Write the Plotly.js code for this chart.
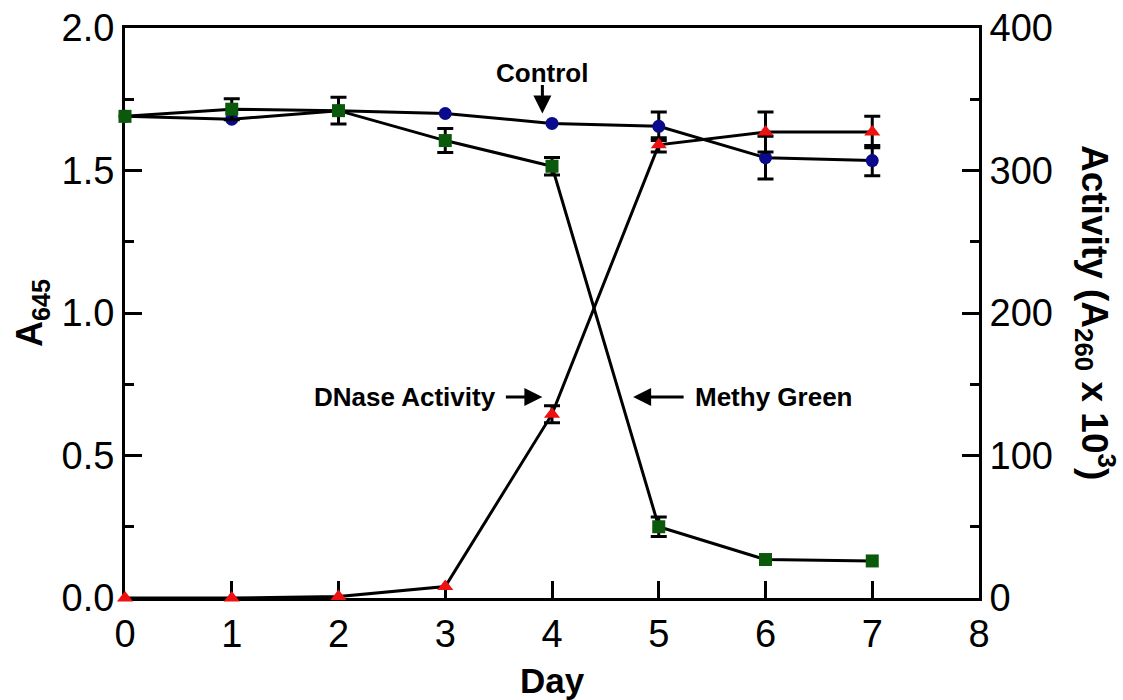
<!DOCTYPE html>
<html>
<head>
<meta charset="utf-8">
<script src="https://cdn.plot.ly/plotly-3.0.1.min.js"></script>
<style>html,body{margin:0;padding:0;background:#fff;}#chart{width:1123px;height:700px;}</style>
</head>
<body>
<div id="chart"></div>
<script>
// Data
var days = [0, 1, 2, 3, 4, 5, 6, 7];
var controlA645 = [1.69, 1.68, 1.71, 1.70, 1.665, 1.655, 1.545, 1.535];
var controlErr = [NaN, NaN, NaN, NaN, NaN, 0.05, 0.075, 0.053];
var methylGreenA645 = [1.69, 1.715, 1.71, 1.605, 1.515, 0.25, 0.135, 0.13];
var methylGreenErr = [NaN, 0.037, 0.047, 0.042, 0.031, 0.034, NaN, NaN];
var dnaseActivity = [0, 0, 1, 8, 129, 318, 327, 327];
var dnaseErr = [NaN, NaN, NaN, NaN, 6, 5, 14, 11];

var xTicks = [0, 1, 2, 3, 4, 5, 6, 7, 8];
var leftTicks = [0, 0.5, 1.0, 1.5, 2.0];
var rightTicks = [0, 100, 200, 300, 400];

var FONT = 'Liberation Sans, Arial, sans-serif';

function errSpec(arr) {
  return {type: 'data', array: arr, visible: true, color: '#000', thickness: 3, width: 8};
}

var traces = [
  {
    x: days, y: controlA645, name: 'Control', type: 'scatter', mode: 'lines+markers',
    line: {color: '#000', width: 3},
    marker: {symbol: 'circle', size: 13, color: '#0a0a8c'},
    error_y: errSpec(controlErr), cliponaxis: false
  },
  {
    x: days, y: methylGreenA645, name: 'Methy Green', type: 'scatter', mode: 'lines+markers',
    line: {color: '#000', width: 3},
    marker: {symbol: 'square', size: 13, color: '#0b5a0b'},
    error_y: errSpec(methylGreenErr), cliponaxis: false
  },
  {
    x: days, y: dnaseActivity, name: 'DNase Activity', type: 'scatter', mode: 'lines+markers',
    yaxis: 'y2',
    line: {color: '#000', width: 3},
    marker: {symbol: 'triangle-up', size: 14, color: '#ee1111'},
    error_y: errSpec(dnaseErr), cliponaxis: false
  }
];

var layout = {
  width: 1123, height: 700,
  margin: {l: 125, r: 144, t: 28, b: 102},
  paper_bgcolor: '#fff', plot_bgcolor: '#fff',
  showlegend: false,
  font: {family: FONT, color: '#000'},
  xaxis: {
    range: [0, 8], tickmode: 'array', tickvals: xTicks, ticktext: xTicks.map(String),
    ticks: 'inside', ticklen: 17, tickwidth: 3, tickcolor: '#000', layer: 'below traces',
    showline: true, linewidth: 3, linecolor: '#000', mirror: true,
    showgrid: false, zeroline: false,
    tickfont: {family: FONT, size: 38, color: '#000'},
    title: {text: '<b>Day</b>', font: {family: FONT, size: 35, color: '#000'}, standoff: 15}
  },
  yaxis: {
    range: [0, 2], tickmode: 'array', tickvals: leftTicks, ticktext: leftTicks.map(function(v){return v.toFixed(1);}),
    ticks: 'inside', ticklen: 17, tickwidth: 3, tickcolor: '#000', layer: 'below traces',
    minor: {tickmode: 'linear', tick0: 0, dtick: 0.25, ticks: 'inside', ticklen: 9, tickwidth: 3, tickcolor: '#000', showgrid: false},
    showline: true, linewidth: 3, linecolor: '#000',
    showgrid: false, zeroline: false,
    tickfont: {family: FONT, size: 38, color: '#000'},
    title: {text: '<b>A<sub>645</sub></b>', font: {family: FONT, size: 36, color: '#000'}, standoff: 8}
  },
  yaxis2: {
    range: [0, 400], overlaying: 'y', side: 'right',
    tickmode: 'array', tickvals: rightTicks, ticktext: rightTicks.map(String),
    ticks: 'inside', ticklen: 17, tickwidth: 3, tickcolor: '#000', layer: 'below traces',
    minor: {tickmode: 'linear', tick0: 0, dtick: 50, ticks: 'inside', ticklen: 9, tickwidth: 3, tickcolor: '#000', showgrid: false},
    showline: true, linewidth: 3, linecolor: '#000',
    showgrid: false, zeroline: false,
    tickfont: {family: FONT, size: 38, color: '#000'}
  },
  annotations: [
    {xref: 'paper', yref: 'paper', x: 1.137, y: 0.5, textangle: 90, showarrow: false,
     text: '<b>Activity (A<sub>260</sub> x 10<sup>3</sup>)</b>',
     font: {family: FONT, size: 37, color: '#000'}, xanchor: 'center', yanchor: 'middle'},
    {xref: 'x', yref: 'y', x: 3.91, y: 1.842, text: '<b>Control</b>', showarrow: false,
     font: {family: FONT, size: 26, color: '#000'}, xanchor: 'center', yanchor: 'middle'},
    {xref: 'x', yref: 'y', x: 3.91, y: 1.70, ax: 0, ay: -30, text: '', showarrow: true,
     arrowhead: 2, arrowsize: 1.2, arrowwidth: 3, arrowcolor: '#000'},
    {xref: 'x', yref: 'y', x: 3.49, y: 0.705, text: '<b>DNase Activity</b>', showarrow: false,
     font: {family: FONT, size: 26, color: '#000'}, xanchor: 'right', yanchor: 'middle'},
    {xref: 'x', yref: 'y', x: 3.91, y: 0.705, ax: -38, ay: 0, text: '', showarrow: true,
     arrowhead: 2, arrowsize: 1.2, arrowwidth: 3, arrowcolor: '#000'},
    {xref: 'x', yref: 'y', x: 5.32, y: 0.705, text: '<b>Methy Green</b>', showarrow: false,
     font: {family: FONT, size: 26, color: '#000'}, xanchor: 'left', yanchor: 'middle'},
    {xref: 'x', yref: 'y', x: 4.76, y: 0.705, ax: 52, ay: 0, text: '', showarrow: true,
     arrowhead: 2, arrowsize: 1.2, arrowwidth: 3, arrowcolor: '#000'}
  ]
};

Plotly.newPlot('chart', traces, layout, {displayModeBar: false, staticPlot: true});
</script>
</body>
</html>
